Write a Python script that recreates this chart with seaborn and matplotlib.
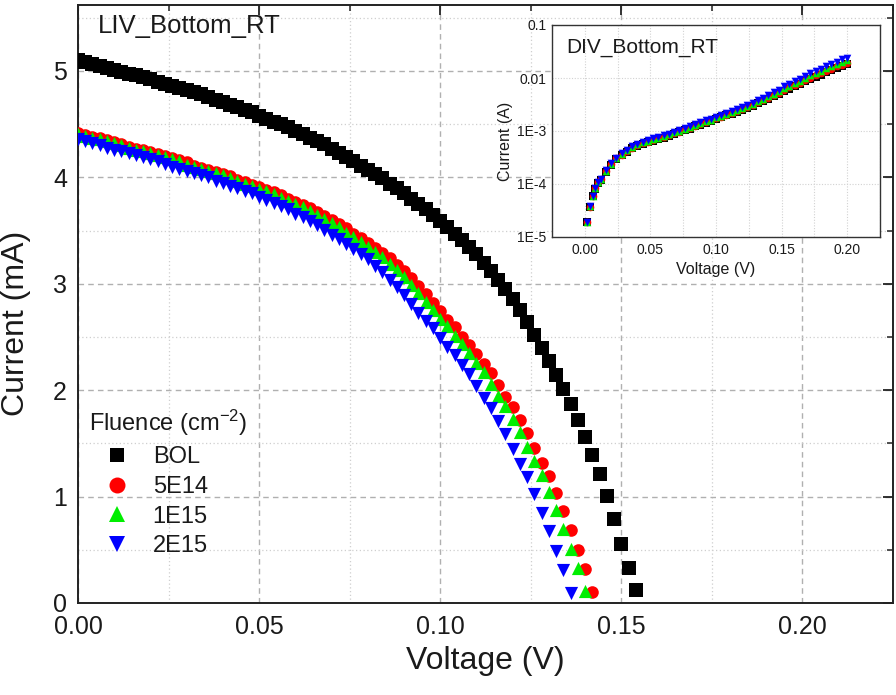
import matplotlib
matplotlib.use("Agg")
import matplotlib.pyplot as plt
from matplotlib.lines import Line2D
from matplotlib.ticker import MultipleLocator, FixedLocator, FixedFormatter, LogLocator, NullFormatter
import seaborn as sns

# ---- light I-V sweep (voltage in V, current in mA) ----
voltage = [
    0.000, 0.002, 0.004, 0.006, 0.008, 0.010, 0.012, 0.014, 0.016, 0.018,
    0.020, 0.022, 0.024, 0.026, 0.028, 0.030, 0.032, 0.034, 0.036, 0.038,
    0.040, 0.042, 0.044, 0.046, 0.048, 0.050, 0.052, 0.054, 0.056, 0.058,
    0.060, 0.062, 0.064, 0.066, 0.068, 0.070, 0.072, 0.074, 0.076, 0.078,
    0.080, 0.082, 0.084, 0.086, 0.088, 0.090, 0.092, 0.094, 0.096, 0.098,
    0.100, 0.102, 0.104, 0.106, 0.108, 0.110, 0.112, 0.114, 0.116, 0.118,
    0.120, 0.122, 0.124, 0.126, 0.128, 0.130, 0.132, 0.134, 0.136, 0.138,
    0.140, 0.142, 0.144, 0.146, 0.148, 0.150, 0.152, 0.154,
]
current_bol = [
    5.10, 5.08, 5.07, 5.05, 5.03, 5.01, 4.99, 4.97, 4.96, 4.94,
    4.92, 4.90, 4.88, 4.86, 4.84, 4.82, 4.80, 4.78, 4.76, 4.73,
    4.71, 4.68, 4.66, 4.63, 4.61, 4.58, 4.55, 4.52, 4.50, 4.47,
    4.44, 4.41, 4.37, 4.34, 4.31, 4.27, 4.23, 4.19, 4.15, 4.11,
    4.07, 4.03, 3.99, 3.94, 3.90, 3.85, 3.80, 3.75, 3.70, 3.65,
    3.59, 3.53, 3.47, 3.41, 3.35, 3.28, 3.20, 3.12, 3.04, 2.95,
    2.86, 2.75, 2.64, 2.52, 2.40, 2.27, 2.14, 2.01, 1.87, 1.72,
    1.56, 1.39, 1.21, 1.01, 0.79, 0.55, 0.33, 0.12,
]
current_5e14 = [
    4.42, 4.40, 4.38, 4.37, 4.35, 4.33, 4.31, 4.29, 4.27, 4.26,
    4.24, 4.22, 4.20, 4.18, 4.16, 4.14, 4.11, 4.09, 4.07, 4.05,
    4.03, 4.01, 3.98, 3.96, 3.93, 3.91, 3.88, 3.86, 3.83, 3.80,
    3.77, 3.74, 3.71, 3.67, 3.64, 3.60, 3.56, 3.52, 3.47, 3.43,
    3.38, 3.34, 3.29, 3.24, 3.18, 3.12, 3.05, 2.98, 2.90, 2.82,
    2.74, 2.66, 2.59, 2.50, 2.42, 2.34, 2.25, 2.16, 2.05, 1.94,
    1.84, 1.72, 1.60, 1.46, 1.32, 1.19, 1.03, 0.86, 0.69, 0.50,
    0.32, 0.10,
]
current_1e15 = [
    4.41, 4.39, 4.37, 4.36, 4.34, 4.32, 4.30, 4.28, 4.26, 4.25,
    4.23, 4.21, 4.19, 4.17, 4.15, 4.12, 4.10, 4.08, 4.06, 4.04,
    4.02, 3.99, 3.97, 3.94, 3.92, 3.89, 3.87, 3.84, 3.81, 3.78,
    3.75, 3.72, 3.68, 3.65, 3.61, 3.57, 3.53, 3.48, 3.44, 3.39,
    3.35, 3.30, 3.25, 3.19, 3.13, 3.06, 2.99, 2.91, 2.83, 2.75,
    2.67, 2.60, 2.51, 2.43, 2.35, 2.26, 2.17, 2.06, 1.95, 1.85,
    1.73, 1.61, 1.47, 1.33, 1.20, 1.04, 0.87, 0.70, 0.51, 0.33,
    0.11,
]
current_2e15 = [
    4.36, 4.34, 4.32, 4.30, 4.28, 4.26, 4.25, 4.23, 4.21, 4.19,
    4.17, 4.15, 4.13, 4.10, 4.08, 4.06, 4.04, 4.02, 4.00, 3.97,
    3.95, 3.92, 3.90, 3.87, 3.85, 3.82, 3.79, 3.76, 3.73, 3.70,
    3.66, 3.63, 3.59, 3.55, 3.51, 3.46, 3.42, 3.37, 3.33, 3.28,
    3.23, 3.17, 3.11, 3.04, 2.97, 2.89, 2.81, 2.73, 2.65, 2.58,
    2.49, 2.41, 2.33, 2.24, 2.15, 2.04, 1.93, 1.83, 1.71, 1.59,
    1.45, 1.31, 1.18, 1.02, 0.85, 0.68, 0.49, 0.31, 0.09,
]

# ---- dark I-V sweep (voltage in V, current in A) ----
dark_voltage = [
    0.002, 0.004, 0.006, 0.008, 0.010, 0.012, 0.016, 0.020, 0.024, 0.028,
    0.032, 0.036, 0.040, 0.044, 0.048, 0.052, 0.056, 0.060, 0.064, 0.068,
    0.072, 0.076, 0.080, 0.084, 0.088, 0.092, 0.096, 0.100, 0.104, 0.108,
    0.112, 0.116, 0.120, 0.124, 0.128, 0.132, 0.136, 0.140, 0.144, 0.148,
    0.152, 0.156, 0.160, 0.164, 0.168, 0.172, 0.176, 0.180, 0.184, 0.188,
    0.192, 0.196, 0.200,
]
dark_bol = [
    1.91e-5, 3.72e-5, 5.89e-5, 8.13e-5, 1.05e-4, 1.20e-4, 1.70e-4, 2.29e-4, 2.95e-4, 3.47e-4,
    4.07e-4, 4.68e-4, 5.25e-4, 5.69e-4, 6.10e-4, 6.53e-4, 7.00e-4, 7.50e-4, 8.04e-4, 8.81e-4,
    9.44e-4, 1.04e-3, 1.11e-3, 1.22e-3, 1.30e-3, 1.43e-3, 1.53e-3, 1.68e-3, 1.80e-3, 1.97e-3,
    2.11e-3, 2.32e-3, 2.54e-3, 2.75e-3, 2.99e-3, 3.31e-3, 3.67e-3, 4.07e-3, 4.52e-3, 5.01e-3,
    5.69e-3, 6.31e-3, 7.00e-3, 7.76e-3, 8.61e-3, 9.55e-3, 1.06e-2, 1.16e-2, 1.29e-2, 1.41e-2,
    1.55e-2, 1.68e-2, 1.80e-2,
]
dark_5e14 = [
    1.93e-5, 3.76e-5, 5.95e-5, 8.25e-5, 1.07e-4, 1.23e-4, 1.75e-4, 2.36e-4, 3.04e-4, 3.58e-4,
    4.20e-4, 4.83e-4, 5.42e-4, 5.87e-4, 6.30e-4, 6.74e-4, 7.22e-4, 7.74e-4, 8.30e-4, 9.09e-4,
    9.74e-4, 1.07e-3, 1.15e-3, 1.26e-3, 1.34e-3, 1.48e-3, 1.58e-3, 1.74e-3, 1.86e-3, 2.04e-3,
    2.19e-3, 2.41e-3, 2.64e-3, 2.86e-3, 3.11e-3, 3.45e-3, 3.83e-3, 4.25e-3, 4.73e-3, 5.25e-3,
    5.97e-3, 6.63e-3, 7.36e-3, 8.17e-3, 9.08e-3, 1.01e-2, 1.12e-2, 1.23e-2, 1.37e-2, 1.50e-2,
    1.65e-2, 1.79e-2, 1.93e-2,
]
dark_1e15 = [
    1.94e-5, 3.78e-5, 5.98e-5, 8.38e-5, 1.08e-4, 1.24e-4, 1.78e-4, 2.40e-4, 3.10e-4, 3.69e-4,
    4.33e-4, 4.98e-4, 5.58e-4, 6.10e-4, 6.53e-4, 6.99e-4, 7.49e-4, 8.03e-4, 8.60e-4, 9.43e-4,
    1.01e-3, 1.11e-3, 1.19e-3, 1.30e-3, 1.40e-3, 1.53e-3, 1.64e-3, 1.80e-3, 1.93e-3, 2.11e-3,
    2.26e-3, 2.48e-3, 2.72e-3, 2.97e-3, 3.25e-3, 3.62e-3, 4.04e-3, 4.52e-3, 5.06e-3, 5.64e-3,
    6.44e-3, 7.19e-3, 8.03e-3, 8.97e-3, 1.00e-2, 1.12e-2, 1.25e-2, 1.37e-2, 1.53e-2, 1.67e-2,
    1.84e-2, 2.01e-2, 2.15e-2,
]
dark_2e15 = [
    1.95e-5, 3.80e-5, 6.03e-5, 8.51e-5, 1.10e-4, 1.26e-4, 1.82e-4, 2.45e-4, 3.16e-4, 3.80e-4,
    4.47e-4, 5.13e-4, 5.75e-4, 6.31e-4, 6.76e-4, 7.24e-4, 7.76e-4, 8.32e-4, 8.91e-4, 9.77e-4,
    1.05e-3, 1.15e-3, 1.23e-3, 1.35e-3, 1.45e-3, 1.58e-3, 1.70e-3, 1.86e-3, 2.00e-3, 2.19e-3,
    2.34e-3, 2.57e-3, 2.82e-3, 3.09e-3, 3.39e-3, 3.80e-3, 4.27e-3, 4.79e-3, 5.37e-3, 6.03e-3,
    6.92e-3, 7.76e-3, 8.71e-3, 9.77e-3, 1.10e-2, 1.23e-2, 1.38e-2, 1.51e-2, 1.70e-2, 1.86e-2,
    2.04e-2, 2.24e-2, 2.40e-2,
]

fluence_labels = ["BOL", "5E14", "1E15", "2E15"]
series_colors = ["#000000", "#ff0000", "#00ee00", "#0000ff"]
series_markers = ["s", "o", "^", "v"]
main_sizes = [92, 82, 90, 90]

x_ticks = [0.00, 0.05, 0.10, 0.15, 0.20]
x_tick_labels = ["0.00", "0.05", "0.10", "0.15", "0.20"]
y_ticks = [0, 1, 2, 3, 4, 5]
y_tick_labels = ["0", "1", "2", "3", "4", "5"]
inset_y_ticks = [1e-5, 1e-4, 1e-3, 1e-2, 1e-1]
inset_y_labels = ["1E-5", "1E-4", "1E-3", "0.01", "0.1"]

sns.set_theme(style="white")
plt.rcParams["font.family"] = ["Liberation Sans", "DejaVu Sans"]
plt.rcParams["mathtext.default"] = "regular"
text_color = "#1a1a1a"

W, H = 896, 695
fig = plt.figure(figsize=(W / 100, H / 100), dpi=100)
fig.patch.set_facecolor("white")


def frac(x0, y0, x1, y1):
    return [x0 / W, 1 - y1 / H, (x1 - x0) / W, (y1 - y0) / H]


ax = fig.add_axes(frac(78, 5, 893, 603))
light = [current_bol, current_5e14, current_1e15, current_2e15]
for cur, col, mk, sz in zip(light, series_colors, series_markers, main_sizes):
    sns.scatterplot(x=voltage[:len(cur)], y=cur, ax=ax, color=col, marker=mk,
                    s=sz, linewidth=0, legend=False, zorder=3)

ax.set_xlim(0, 0.225)
ax.set_ylim(0, 5.62)
ax.xaxis.set_major_locator(FixedLocator(x_ticks))
ax.xaxis.set_major_formatter(FixedFormatter(x_tick_labels))
ax.xaxis.set_minor_locator(MultipleLocator(0.025))
ax.yaxis.set_major_locator(FixedLocator(y_ticks))
ax.yaxis.set_major_formatter(FixedFormatter(y_tick_labels))
ax.yaxis.set_minor_locator(MultipleLocator(0.5))
ax.grid(which="major", color="#b0b0b0", linestyle=(0, (4, 3)), linewidth=1.0, zorder=0)
ax.grid(which="minor", color="#cfcfcf", linestyle=(0, (1, 2)), linewidth=0.9, zorder=0)
ax.set_axisbelow(True)
ax.tick_params(which="both", direction="in", top=True, right=True, colors="#222222",
               labelcolor=text_color)
ax.tick_params(which="major", length=7, width=1.3, labelsize=18)
ax.tick_params(axis="x", which="major", pad=9)
ax.tick_params(axis="y", which="major", pad=8)
ax.tick_params(which="minor", length=4, width=1.1)
for sp in ax.spines.values():
    sp.set_linewidth(1.4)
    sp.set_color("#222222")
ax.set_xlabel("Voltage (V)", fontsize=23, color=text_color, labelpad=5)
ax.set_ylabel("Current (mA)", fontsize=23, color=text_color)
ax.yaxis.set_label_coords(-0.058, 0.468)
ax.text(0.0245, 0.985, "LIV_Bottom_RT", transform=ax.transAxes, fontsize=18.5,
        color=text_color, ha="left", va="top")

handles = [Line2D([], [], linestyle="none", marker=mk, color=col, markersize=ms,
                  markeredgewidth=0)
           for mk, col, ms in zip(series_markers, series_colors, [10, 11.5, 12, 12])]
leg = ax.legend(handles, fluence_labels, title="Fluence (cm$^{-2}$)",
                loc="upper left", bbox_to_anchor=(89 / W, 1 - 408 / H),
                bbox_transform=fig.transFigure, frameon=False, fontsize=17,
                title_fontsize=17, borderpad=0, handlelength=2.4,
                handletextpad=0.3, labelspacing=0.33, borderaxespad=0)
leg._legend_box.align = "left"
for t in leg.get_texts():
    t.set_color(text_color)
leg.get_title().set_color(text_color)

# ---- inset: dark current on a log scale ----
ins = fig.add_axes(frac(552, 25, 880, 237))
ins.set_facecolor("white")
dark = [dark_bol, dark_5e14, dark_1e15, dark_2e15]
for cur, col, mk in zip(dark, series_colors, series_markers):
    sns.scatterplot(x=dark_voltage, y=cur, ax=ins, color=col, marker=mk, s=30,
                    linewidth=0, legend=False, zorder=3)
ins.set_yscale("log")
ins.set_xlim(-0.025, 0.225)
ins.set_ylim(1e-5, 1e-1)
ins.xaxis.set_major_locator(FixedLocator(x_ticks))
ins.xaxis.set_major_formatter(FixedFormatter(x_tick_labels))
ins.xaxis.set_minor_locator(MultipleLocator(0.025))
ins.yaxis.set_major_locator(FixedLocator(inset_y_ticks))
ins.yaxis.set_major_formatter(FixedFormatter(inset_y_labels))
ins.yaxis.set_minor_locator(LogLocator(base=10, subs=range(2, 10), numticks=20))
ins.yaxis.set_minor_formatter(NullFormatter())
ins.grid(which="major", color="#d2d2d2", linestyle=(0, (1, 1.5)), linewidth=0.8, zorder=0)
ins.grid(which="minor", axis="x", color="#d2d2d2", linestyle=(0, (1, 1.5)), linewidth=0.8, zorder=0)
ins.set_axisbelow(True)
ins.tick_params(which="both", direction="in", colors="#333333", labelcolor=text_color)
ins.tick_params(which="major", length=4, width=0.9, labelsize=10, pad=4)
ins.tick_params(which="minor", length=2, width=0.7)
for sp in ins.spines.values():
    sp.set_linewidth(1.0)
    sp.set_color("#333333")
ins.set_xlabel("Voltage (V)", fontsize=11.5, color=text_color, labelpad=4)
ins.set_ylabel("Current (A)", fontsize=11.5, color=text_color)
ins.yaxis.set_label_coords(-0.12, 0.45)
ins.text(0.043, 0.94, "DIV_Bottom_RT", transform=ins.transAxes, fontsize=15,
         color=text_color, ha="left", va="top")

fig.savefig("out.png", dpi=100, facecolor="white")
